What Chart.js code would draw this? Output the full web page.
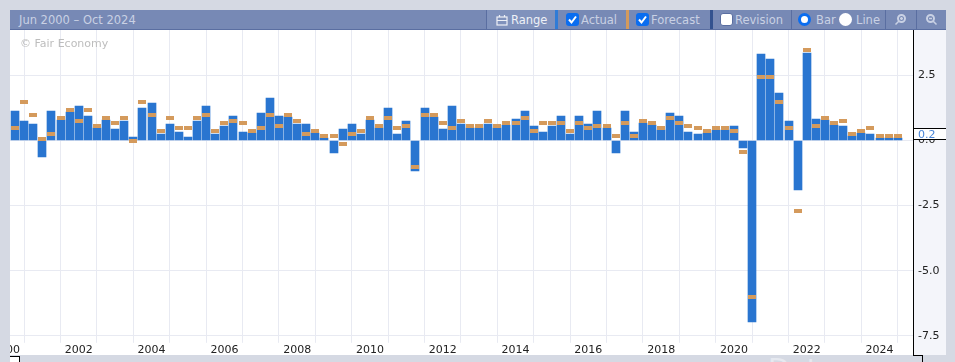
<!DOCTYPE html>
<html>
<head>
<meta charset="utf-8">
<script src="https://cdn.jsdelivr.net/npm/chart.js@4"></script>
<style>
  html, body { margin: 0; padding: 0; width: 955px; height: 362px; overflow: hidden; background: #d5d9e3; font-family: "DejaVu Sans", sans-serif; }
  #toolbar { position: absolute; left: 10px; top: 10px; width: 936px; height: 19px; background: #7789b5; border-bottom: 1px solid #5a6ea1; color: #c9d1e4; font-size: 11.5px; line-height: 20px; }
  #toolbar span, #toolbar i, #toolbar svg { position: absolute; top: 0; white-space: nowrap; font-style: normal; }
  #toolbar .sep { width: 3px; height: 19px; }
  #toolbar .div { width: 1px; height: 19px; background: #5a6ea1; }
  #toolbar .box { top: 3px; width: 13px; height: 13px; border-radius: 3px; background: #0a6df0; }
  #toolbar .empty { background: #fff; border: 1px solid #5a6ea1; width: 11px; height: 11px; }
  #toolbar .radio { top: 3px; width: 13px; height: 13px; border-radius: 50%; background: #fff; box-sizing: border-box; }
  #toolbar .on { border: 3px solid #0a6df0; }
  #panel { position: absolute; left: 10px; top: 30px; width: 903px; height: 325px; background: #fff; }
  #axisbg { position: absolute; left: 913px; top: 30px; width: 33px; height: 325px; background: #f4f5fa; border-left: 1px solid #000; box-sizing: border-box; }
  #clip { position: absolute; left: 10px; top: 30px; width: 936px; height: 325px; overflow: hidden; }
  #wrap { position: absolute; left: -19px; top: -12px; width: 955px; height: 340px; }
  #mark { position: absolute; left: 20px; top: 37px; color: #bdbdbd; font-size: 11px; }
  #last { position: absolute; left: 914px; top: 128px; width: 32px; height: 10px; background: #fff; border-top: 1px solid #000; border-bottom: 1px solid #000; color: #4a86d8; font-size: 11px; line-height: 11px; text-indent: 4px; }
  #corner { position: absolute; left: 913px; top: 355px; width: 10px; height: 7px; border-top: 1px solid #000; border-right: 1px solid #000; box-sizing: border-box; }
  #corner2 { position: absolute; left: 10px; top: 356px; width: 10px; height: 6px; background: #fff; border-top: 1px solid #000; border-right: 1px solid #000; box-sizing: border-box; }
  #behind { position: absolute; left: 768px; top: 354px; color: #e6e9f0; font-size: 28px; line-height: 32px; }
</style>
</head>
<body>
<div id="behind">Data</div>
<div id="toolbar">
  <span style="left:9px">Jun 2000 – Oct 2024</span>
  <i class="div" style="left:476px"></i>
  <i style="left:477px;width:68px;height:19px;background:#8092bc"></i>
  <svg style="left:486px;top:4px" width="12" height="12" viewBox="0 0 12 12" fill="none" stroke="#eef1f7" stroke-width="1.2"><rect x="1" y="3" width="10" height="8"/><path d="M1 6.5H11M3.5 1V3M8.5 1V3"/></svg>
  <span style="left:501px;color:#eef1f7">Range</span>
  <i class="sep" style="left:545px;background:#2f7bd6"></i>
  <i class="box" style="left:556px"></i>
  <svg style="left:556px;top:3px" width="13" height="13" viewBox="0 0 13 13" fill="none" stroke="#fff" stroke-width="2"><path d="M3 6.5L5.5 9.5L10 3.5"/></svg>
  <span style="left:571px">Actual</span>
  <i class="sep" style="left:616px;background:#d49a5c"></i>
  <i class="box" style="left:626px"></i>
  <svg style="left:626px;top:3px" width="13" height="13" viewBox="0 0 13 13" fill="none" stroke="#fff" stroke-width="2"><path d="M3 6.5L5.5 9.5L10 3.5"/></svg>
  <span style="left:641px">Forecast</span>
  <i class="sep" style="left:700px;background:#33528f"></i>
  <i class="box empty" style="left:710px"></i>
  <span style="left:725px">Revision</span>
  <i class="div" style="left:781px"></i>
  <i class="radio on" style="left:788px"></i>
  <span style="left:806px">Bar</span>
  <i class="radio" style="left:829px"></i>
  <span style="left:846px">Line</span>
  <i class="div" style="left:875px"></i>
  <svg style="left:884px;top:3px" width="13" height="13" viewBox="0 0 13 13" fill="none" stroke="#c9d1e4" stroke-width="2"><circle cx="7.5" cy="5.5" r="3.5"/><path d="M5 8L1.5 11.5M6 5.5H9M7.5 4V7" stroke-width="1.5"/></svg>
  <i class="div" style="left:906px"></i>
  <svg style="left:915px;top:3px" width="13" height="13" viewBox="0 0 13 13" fill="none" stroke="#c9d1e4" stroke-width="2"><circle cx="5.5" cy="5.5" r="3.5"/><path d="M8 8L11.5 11.5M4 5.5H7" stroke-width="1.5"/></svg>
</div>
<div id="panel"></div>
<div id="axisbg"></div>
<div id="clip"><div id="wrap"><canvas id="chart"></canvas></div></div>
<div id="mark">© Fair Economy</div>
<div id="last">0.2</div>
<div id="corner"></div>
<div id="corner2"></div>
<script>
const quarters = [
  2000.25, 2000.5, 2000.75,
  2001, 2001.25, 2001.5, 2001.75,
  2002, 2002.25, 2002.5, 2002.75,
  2003, 2003.25, 2003.5, 2003.75,
  2004, 2004.25, 2004.5, 2004.75,
  2005, 2005.25, 2005.5, 2005.75,
  2006, 2006.25, 2006.5, 2006.75,
  2007, 2007.25, 2007.5, 2007.75,
  2008, 2008.25, 2008.5, 2008.75,
  2009, 2009.25, 2009.5, 2009.75,
  2010, 2010.25, 2010.5, 2010.75,
  2011, 2011.25, 2011.5, 2011.75,
  2012, 2012.25, 2012.5, 2012.75,
  2013, 2013.25, 2013.5, 2013.75,
  2014, 2014.25, 2014.5, 2014.75,
  2015, 2015.25, 2015.5, 2015.75,
  2016, 2016.25, 2016.5, 2016.75,
  2017, 2017.25, 2017.5, 2017.75,
  2018, 2018.25, 2018.5, 2018.75,
  2019, 2019.25, 2019.5, 2019.75,
  2020, 2020.25, 2020.5, 2020.75,
  2021, 2021.25, 2021.5, 2021.75,
  2022, 2022.25, 2022.5, 2022.75,
  2023, 2023.25, 2023.5, 2023.75,
  2024, 2024.25, 2024.5
];
const actual = [
  1.12, 0.74, 0.62, -0.62, 1.12, 0.77, 1.08, 1.32, 0.93, 0.46,
  0.77, 0.43, 0.74, 0.12, 1.24, 1.43, 0.23, 0.62, 0.31, 0.12,
  0.74, 1.32, 0.23, 0.54, 0.93, 0.31, 0.27, 1.05, 1.63, 0.93,
  0.89, 0.62, 0.62, 0.27, 0.08, -0.5, 0.43, 0.62, 0.23, 0.77,
  0.46, 1.24, 0.23, 0.74, -1.16, 1.24, 0.89, 0.43, 1.32, 0.62,
  0.46, 0.46, 0.62, 0.46, 0.58, 0.81, 1.12, 0.54, 0.31, 0.54,
  0.93, 0.23, 0.93, 0.62, 1.12, 0.46, -0.5, 1.12, 0.31, 0.66,
  0.58, 0.39, 1.05, 0.93, 0.31, 0.23, 0.27, 0.39, 0.39, 0.54,
  -0.31, -6.97, 3.33, 3.14, 1.82, 0.74, -1.9, 3.37, 0.81, 0.77,
  0.58, 0.54, 0.15, 0.27, 0.23, 0.08, 0.08, 0.08
];
const forecast = [
  0.46, 1.47, 0.97, 0.04, 0.23, 0.85, 1.16, 0.74, 1.16, 0.54,
  0.85, 0.66, 0.85, -0.04, 1.47, 0.97, 0.35, 0.85, 0.46, 0.46,
  0.85, 0.97, 0.35, 0.66, 0.74, 0.66, 0.35, 0.46, 0.97, 0.54,
  0.97, 0.74, 0.23, 0.35, 0.15, 0.15, -0.15, 0.23, 0.35, 0.85,
  0.54, 0.85, 0.46, 0.54, -1.03, 0.97, 0.97, 0.66, 0.46, 0.74,
  0.54, 0.54, 0.74, 0.54, 0.66, 0.66, 0.85, 0.35, 0.66, 0.66,
  0.66, 0.35, 0.66, 0.46, 0.54, 0.54, 0.15, 0.66, 0.15, 0.74,
  0.66, 0.46, 0.85, 0.66, 0.54, 0.46, 0.35, 0.46, 0.46, 0.35,
  -0.46, -6.0, 2.44, 2.44, 1.47, 0.46, -2.72, 3.45, 0.54, 0.85,
  0.66, 0.74, 0.23, 0.35, 0.46, 0.15, 0.15, 0.15
];

// snap bars and points to whole pixels so edges stay crisp
const snapPixels = {
  id: 'snapPixels',
  afterDatasetsUpdate(chart) {
    chart.data.datasets.forEach((ds, i) => {
      chart.getDatasetMeta(i).data.forEach(el => {
        el.x = Math.round(el.x);
        el.y = Math.round(el.y);
        if (el.base !== undefined) el.base = Math.round(el.base);
      });
    });
  }
};

new Chart(document.getElementById('chart'), {
  data: {
    datasets: [{
      type: 'line',
      label: 'Forecast',
      data: quarters.map((q, i) => ({ x: q, y: forecast[i] })),
      showLine: false,
      pointStyle: 'line',
      pointRadius: 4,
      pointBorderWidth: 4,
      pointBorderColor: '#d49a5c',
      pointBackgroundColor: '#d49a5c',
      order: 1
    }, {
      type: 'bar',
      label: 'Actual',
      data: quarters.map((q, i) => ({ x: q, y: actual[i] })),
      backgroundColor: '#2975d0',
      barThickness: 8,
      order: 2
    }]
  },
  options: {
    responsive: true,
    maintainAspectRatio: false,
    animation: false,
    layout: { padding: 0 },
    plugins: { legend: { display: false }, tooltip: { enabled: false } },
    scales: {
      x: {
        type: 'linear',
        min: 2000,
        max: 2024.92,
        offset: false,
        border: { display: false },
        grid: { color: '#e8eaf2', lineWidth: 1, tickLength: 7 },
        ticks: {
          stepSize: 1,
          includeBounds: false,
          autoSkip: false,
          maxRotation: 0,
          padding: 1,
          color: '#222',
          font: { family: 'DejaVu Sans', size: 11 },
          callback: v => (v % 2 === 0 ? String(v) : '')
        }
      },
      y: {
        position: 'right',
        min: -7.5,
        max: 4.25,
        border: { display: false },
        grid: { color: '#e8eaf2', lineWidth: 1, drawTicks: false },
        afterFit: s => { s.width = 33; },
        ticks: {
          stepSize: 2.5,
          includeBounds: false,
          padding: 5,
          color: '#222',
          font: { family: 'DejaVu Sans', size: 11 },
          callback: v => v.toFixed(1)
        }
      }
    }
  },
  plugins: [snapPixels]
});
</script>
</body>
</html>
